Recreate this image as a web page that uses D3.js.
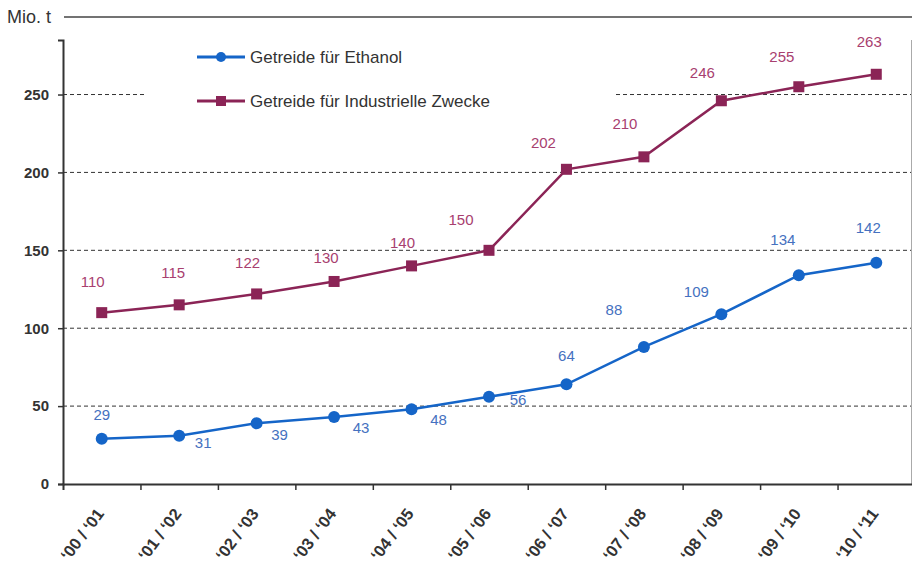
<!DOCTYPE html>
<html>
<head>
<meta charset="utf-8">
<script src="https://cdn.jsdelivr.net/npm/d3@7"></script>
<style>
  html, body { margin: 0; padding: 0; background: #fff; overflow: hidden; }
  svg { display: block; }
  text { font-family: "Liberation Sans", Arial, sans-serif; }
</style>
</head>
<body>
<div id="chart"></div>
<script>
// data
const seasons = ["‘00 / ‘01", "‘01 / ‘02", "‘02 / ‘03", "‘03 / ‘04", "‘04 / ‘05", "‘05 / ‘06",
  "‘06 / ‘07", "‘07 / ‘08", "‘08 / ‘09", "‘09 / ‘10", "‘10 / ‘11"];
const ethanol = [29, 31, 39, 43, 48, 56, 64, 88, 109, 134, 142];
const industrial = [110, 115, 122, 130, 140, 150, 202, 210, 246, 255, 263];
const yTicks = [0, 50, 100, 150, 200, 250];
const seriesNames = ["Getreide für Ethanol", "Getreide für Industrielle Zwecke"];

// label offsets relative to the point [dx, dy] (text center)
const ethLabelOff = [[0, -24], [24, 7], [23, 12], [27, 11], [27, 11], [29, 3], [0, -29], [-30, -37], [-25, -22], [-16, -35], [-8, -35]];
const indLabelOff = [[-9, -31], [-6, -32], [-9, -31], [-8, -24], [-9, -23], [-28, -31], [-23, -27], [-19, -33], [-19, -28], [-17, -30], [-7, -33]];

const width = 912, height = 581;
const margin = {top: 40, right: 0, bottom: 97, left: 63};
const innerWidth = 915 - margin.left;
const innerHeight = height - margin.top - margin.bottom;

const blue = "#1565c8", purple = "#8b2456";
const blueText = "#4571c0", purpleText = "#a8406f";

const svg = d3.select("#chart").append("svg")
  .attr("width", width)
  .attr("height", height);

const x = d3.scaleBand()
  .domain(seasons)
  .range([0, innerWidth]);

const y = d3.scaleLinear()
  .domain([0, 285])
  .range([innerHeight, 0]);

const cx = d => x(d) + x.bandwidth() / 2;

const g = svg.append("g")
  .attr("transform", `translate(${margin.left},${margin.top})`);

// "Mio. t" header
svg.append("text")
  .attr("x", 7).attr("y", 23)
  .style("font-size", "18px").style("fill", "#333")
  .text("Mio. t");
svg.append("line")
  .attr("x1", 64).attr("x2", width)
  .attr("y1", 17).attr("y2", 17)
  .style("stroke", "#444").style("stroke-width", 1.5);

// grid
g.selectAll(".grid")
  .data(yTicks.filter(d => d > 0))
  .enter().append("line")
    .attr("x1", 0).attr("x2", innerWidth)
    .attr("y1", d => y(d)).attr("y2", d => y(d))
    .style("stroke", "#333").style("stroke-width", 1)
    .style("stroke-dasharray", "4,3");

// right frame line
g.append("line")
  .attr("x1", 848.5).attr("x2", 848.5)
  .attr("y1", 0).attr("y2", innerHeight)
  .style("stroke", "#aaa").style("stroke-width", 1);

// legend background (hides grid)
g.append("rect")
  .attr("x", 82).attr("y", 0)
  .attr("width", 470).attr("height", 82)
  .style("fill", "#fff");

// y axis
const yAxis = d3.axisLeft(y).tickValues(yTicks).tickSize(5).tickPadding(9);
const ya = g.append("g").call(yAxis);
ya.select(".domain").style("stroke", "#333").style("stroke-width", 2);
ya.selectAll(".tick line").style("stroke", "#333").style("stroke-width", 1.5);
ya.selectAll(".tick text")
  .style("font-size", "15px").style("font-weight", "bold").style("fill", "#333")
  .style("font-family", "'Liberation Sans', Arial, sans-serif");

// x axis (ticks between categories)
const xAxis = d3.axisBottom(d3.scaleLinear().domain([0, 11]).range([0, x.step() * 11]))
  .tickValues(d3.range(1, 12)).tickSize(6).tickFormat("");
const xa = g.append("g").attr("transform", `translate(0,${innerHeight})`).call(xAxis);
xa.select(".domain").style("stroke", "#333").style("stroke-width", 2);
xa.selectAll(".tick line").style("stroke", "#333").style("stroke-width", 1.5);

// rotated season labels
svg.selectAll(".xlabel")
  .data(seasons)
  .enter().append("text")
    .attr("x", d => margin.left + cx(d) + 3)
    .attr("y", margin.top + innerHeight + 30)
    .attr("transform", d => `rotate(-53,${margin.left + cx(d) + 3},${margin.top + innerHeight + 30})`)
    .attr("text-anchor", "end")
    .style("font-size", "16.5px").style("font-weight", "bold").style("fill", "#333")
    .text(d => d);

const line = d3.line()
  .x((d, i) => cx(seasons[i]))
  .y(d => y(d));

// industrial series
g.append("path").datum(industrial)
  .attr("d", line)
  .style("fill", "none").style("stroke", purple).style("stroke-width", 2.5);
g.selectAll(".indpt").data(industrial).enter().append("rect")
  .attr("x", (d, i) => cx(seasons[i]) - 5.5)
  .attr("y", d => y(d) - 5.5)
  .attr("width", 11).attr("height", 11)
  .style("fill", purple);
g.selectAll(".indlab").data(industrial).enter().append("text")
  .attr("x", (d, i) => cx(seasons[i]) + indLabelOff[i][0])
  .attr("y", (d, i) => y(d) + indLabelOff[i][1])
  .attr("dy", "0.35em")
  .attr("text-anchor", "middle")
  .style("font-size", "15px").style("fill", purpleText)
  .text(d => d);

// ethanol series
g.append("path").datum(ethanol)
  .attr("d", line)
  .style("fill", "none").style("stroke", blue).style("stroke-width", 2.5);
g.selectAll(".ethpt").data(ethanol).enter().append("circle")
  .attr("cx", (d, i) => cx(seasons[i]))
  .attr("cy", d => y(d))
  .attr("r", 6)
  .style("fill", blue);
g.selectAll(".ethlab").data(ethanol).enter().append("text")
  .attr("x", (d, i) => cx(seasons[i]) + ethLabelOff[i][0])
  .attr("y", (d, i) => y(d) + ethLabelOff[i][1])
  .attr("dy", "0.35em")
  .attr("text-anchor", "middle")
  .style("font-size", "15px").style("fill", blueText)
  .text(d => d);

// legend
const legend = g.append("g").attr("transform", "translate(134,17)");
const items = legend.selectAll("g").data(seriesNames).enter().append("g")
  .attr("transform", (d, i) => `translate(0,${i * 44})`);
items.append("line")
  .attr("x1", 0).attr("x2", 48).attr("y1", 0).attr("y2", 0)
  .style("stroke", (d, i) => i === 0 ? blue : purple).style("stroke-width", 3);
items.filter((d, i) => i === 0).append("circle")
  .attr("cx", 24).attr("cy", 0).attr("r", 5).style("fill", blue);
items.filter((d, i) => i === 1).append("rect")
  .attr("x", 19).attr("y", -5).attr("width", 10).attr("height", 10).style("fill", purple);
items.append("text")
  .attr("x", 53).attr("y", 6)
  .style("font-size", "17px").style("fill", "#333")
  .text(d => d);
</script>
</body>
</html>
